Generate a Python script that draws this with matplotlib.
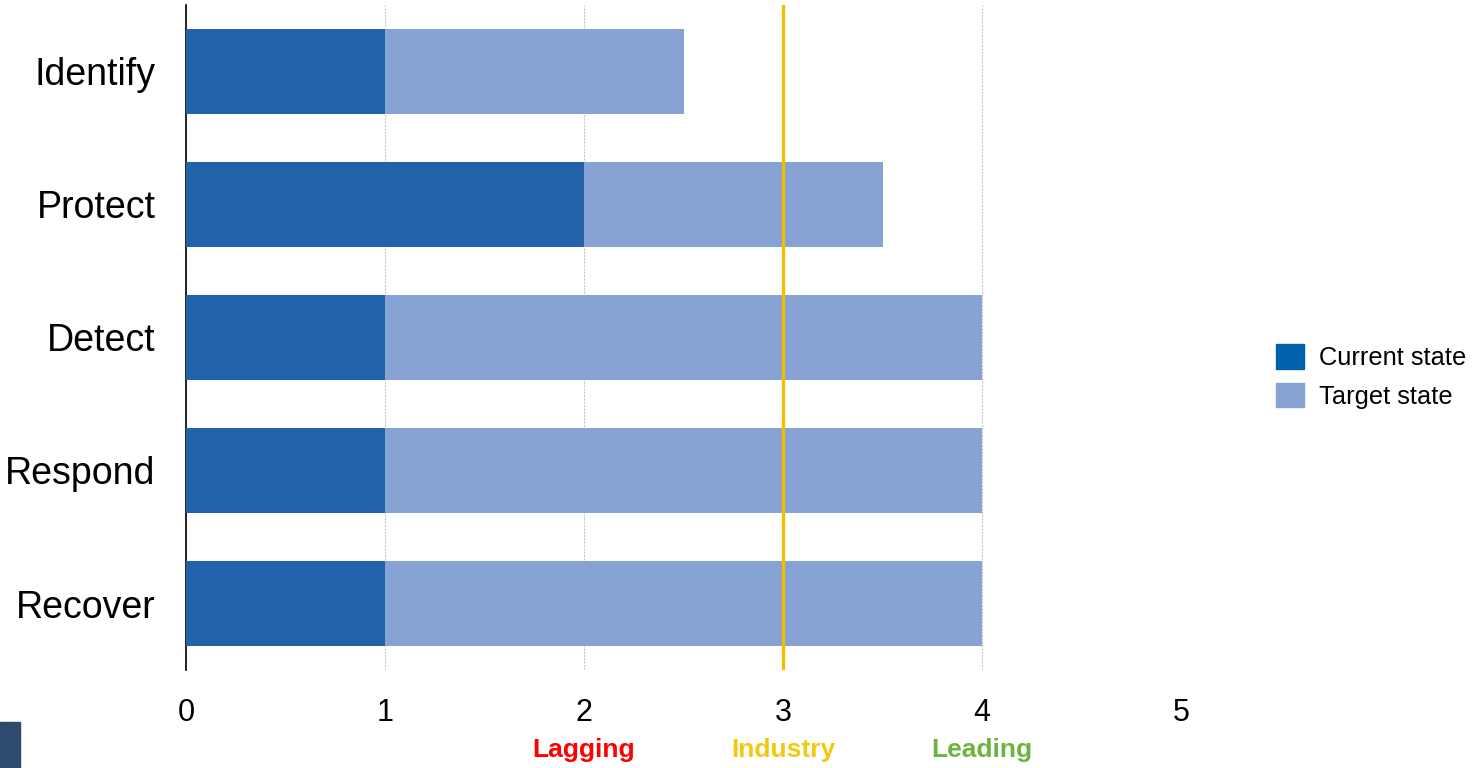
import numpy as np
import matplotlib.pyplot as plt
from matplotlib.patches import Patch, Rectangle

plt.rcParams['font.family'] = ['Liberation Sans', 'DejaVu Sans']

functions = ['Identify', 'Protect', 'Detect', 'Respond', 'Recover']
current_state = [1, 2, 1, 1, 1]
target_state = [2.5, 3.5, 4, 4, 4]
industry_level = 3
x_ticks = [0, 1, 2, 3, 4, 5]
band_labels = ['Lagging', 'Industry', 'Leading']
band_pos = [2, 3, 4]
band_colors = ['#FF0000', '#F2C811', '#6DB33F']

fig = plt.figure(figsize=(14.73, 7.68), dpi=100)
ax = fig.add_axes([0.1263, 0.1276, 0.6755, 0.8659])

y = np.arange(len(functions))
ax.barh(y, target_state, height=0.64, color='#86A3D3', zorder=2)
ax.barh(y, current_state, height=0.64, color='#2262AB', zorder=3)
ax.axvline(industry_level, color='#F2BE00', lw=2.4, zorder=4)

ax.set_xlim(0, 5)
ax.set_ylim(len(functions) - 0.5, -0.5)
ax.set_yticks(y)
ax.set_yticklabels(functions, fontsize=27)
ax.set_xticks(x_ticks)
ax.set_xticklabels([str(t) for t in x_ticks], fontsize=22)
ax.tick_params(length=0)
ax.tick_params(axis='x', pad=20)
ax.tick_params(axis='y', pad=22)
ax.grid(axis='x', color='#C8C8C8', ls=(0, (2, 1)), lw=0.8, zorder=1)
for s in ['top', 'right', 'bottom']:
    ax.spines[s].set_visible(False)
ax.spines['left'].set_linewidth(1.2)

for lab, pos, col in zip(band_labels, band_pos, band_colors):
    ax.annotate(lab, xy=(pos, 0), xycoords=('data', 'figure fraction'),
                xytext=(0, 13), textcoords='offset points',
                ha='center', va='center', fontsize=19, fontweight='bold', color=col)

handles = [Patch(color='#0060AA', label='Current state'),
           Patch(color='#86A3D3', label='Target state')]
fig.legend(handles=handles, loc='center left', bbox_to_anchor=(0.8505, 0.51),
           frameon=False, fontsize=18.3, handlelength=1.1, handleheight=1.1,
           handletextpad=0.6, labelspacing=0.5, borderpad=0.4)

fig.patches.append(Rectangle((0, 0), 0.0135, 0.06, transform=fig.transFigure,
                             color='#2E4A6E', zorder=0))

fig.savefig('out.png', dpi=100)
